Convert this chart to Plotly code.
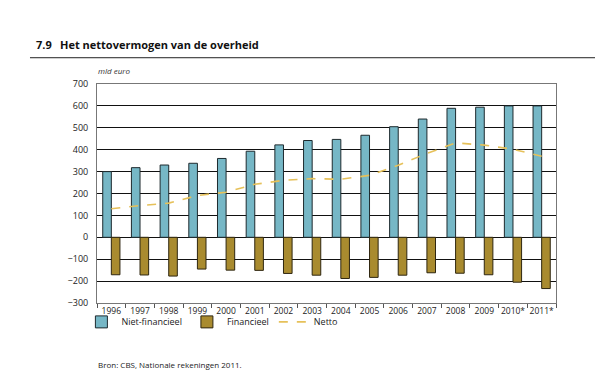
import plotly.graph_objects as go

years = ["1996", "1997", "1998", "1999", "2000", "2001", "2002", "2003", "2004",
         "2005", "2006", "2007", "2008", "2009", "2010*", "2011*"]
niet_financieel = [300, 318, 330, 338, 360, 393, 422, 442, 447, 466, 505, 540, 589, 594, 600, 600]
financieel = [-171, -172, -177, -145, -150, -151, -165, -173, -188, -183, -173, -162, -164, -171, -205, -234]
netto = [130, 145, 156, 191, 206, 242, 260, 268, 265, 283, 329, 383, 431, 421, 402, 370]
y_ticks = [-300, -200, -100, 0, 100, 200, 300, 400, 500, 600, 700]

FONT = "Open Sans"
BLUE = "#76b7c6"
GOLD = "#a98b2f"
NETTO = "#e6c15a"

fig = go.Figure()
fig.add_trace(go.Bar(x=years, y=niet_financieel, name="Niet-financieel",
                     marker=dict(color=BLUE, line=dict(color="#1e2a2e", width=1))))
fig.add_trace(go.Bar(x=years, y=financieel, name="Financieel",
                     marker=dict(color=GOLD, line=dict(color="#2e2610", width=1))))
fig.add_trace(go.Scatter(x=years, y=netto, name="Netto", mode="lines",
                         line=dict(color=NETTO, width=1.6, dash="dash")))

fig.update_layout(
    width=611, height=390,
    margin=dict(l=97, r=55, t=84, b=87),
    paper_bgcolor="white", plot_bgcolor="white",
    barmode="group", bargap=0.4, bargroupgap=0,
    font=dict(family=FONT, size=9, color="#222"),
    showlegend=True,
    legend=dict(orientation="h", x=-0.034, xanchor="left", y=-0.02, yanchor="top",
                bgcolor="rgba(0,0,0,0)",
                font=dict(size=9, color="#222"), traceorder="normal",
                itemwidth=30, tracegroupgap=0),
    xaxis=dict(type="category", tickvals=years, ticktext=years, tickangle=0,
               automargin=False,
               showgrid=False, showline=True, linecolor="#777", linewidth=1, mirror=True,
               ticks="outside", tickson="boundaries", ticklen=4, tickcolor="#555",
               tickfont=dict(size=8.5, color="#222"), fixedrange=True),
    yaxis=dict(range=[-300, 700], tickvals=y_ticks, showgrid=True, gridcolor="#111",
               gridwidth=1, zeroline=True, zerolinecolor="#111", zerolinewidth=1,
               automargin=False,
               showline=True, linecolor="#777", linewidth=1, mirror=True,
               ticks="", ticklabelstandoff=6, tickfont=dict(size=9, color="#222"), fixedrange=True),
)

fig.add_annotation(text="<b>7.9</b>", xref="paper", yref="paper", x=-0.138, y=1.18,
                   xanchor="left", yanchor="middle", showarrow=False,
                   font=dict(size=11, color="#111", family=FONT))
fig.add_annotation(text="<b>Het nettovermogen van de overheid</b>", xref="paper", yref="paper",
                   x=-0.085, y=1.18, xanchor="left", yanchor="middle", showarrow=False,
                   font=dict(size=11, color="#111", family=FONT))
fig.add_shape(type="line", xref="paper", yref="paper", x0=-0.146, x1=1.085, y0=1.12, y1=1.12,
              line=dict(color="#222", width=1))
fig.add_annotation(text="<i>mld euro</i>", xref="paper", yref="paper", x=-0.002, y=1.06,
                   xanchor="left", yanchor="middle", showarrow=False,
                   font=dict(size=8, color="#333", family=FONT))
fig.add_annotation(text="Bron: CBS, Nationale rekeningen 2011.", xref="paper", yref="paper",
                   x=-0.002, y=-0.28, xanchor="left", yanchor="middle", showarrow=False,
                   font=dict(size=8, color="#222", family=FONT))

fig.write_html("out.html", config={"displayModeBar": False},
               post_script="document.body.style.margin='0';")
